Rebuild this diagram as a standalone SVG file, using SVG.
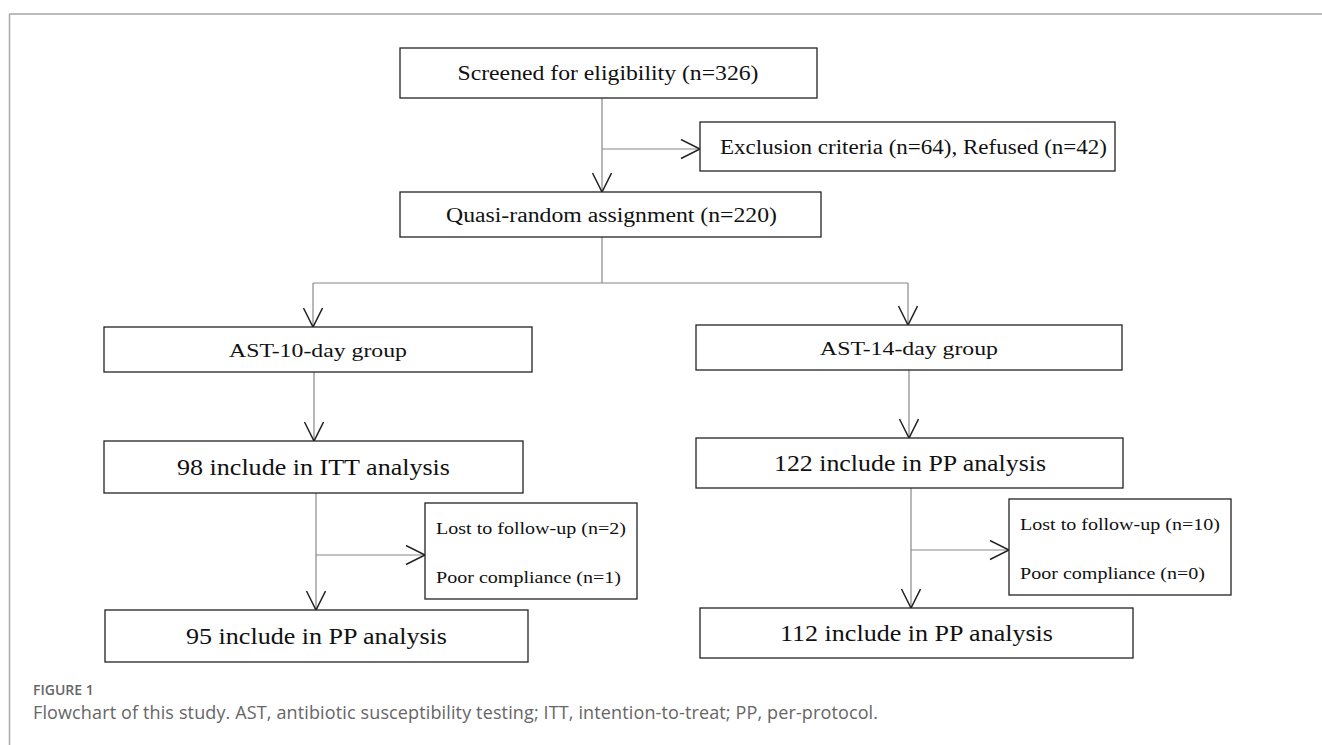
<svg xmlns="http://www.w3.org/2000/svg" width="1322" height="745" viewBox="0 0 1322 745">
<style>
.box{fill:#fff;stroke:#222;stroke-width:1.3}
.t{font-family:"Liberation Serif","Times New Roman",serif;fill:#111}
.c{text-anchor:middle}
.ln{stroke:#888;stroke-width:1.2;fill:none}
.cap{font-family:"Open Sans","Liberation Sans",sans-serif;fill:#666}
</style>
<defs>
<marker id="ah" markerUnits="userSpaceOnUse" markerWidth="22" markerHeight="22" viewBox="0 0 22 22" refX="20" refY="10" orient="auto">
<path d="M1,0.5 L20,10 L1,19.5" fill="none" stroke="#222" stroke-width="1.5"/>
</marker>
</defs>
<rect width="1322" height="745" fill="#fff"/>
<g id="frame">
<line x1="9" y1="14" x2="1322" y2="14" stroke="#bbb" stroke-width="2"/>
<line x1="9.5" y1="14" x2="9.5" y2="745" stroke="#aaa" stroke-width="1.5"/>
</g>
<g id="connectors">
<line class="ln" x1="602" y1="98" x2="602" y2="192" marker-end="url(#ah)"/>
<line class="ln" x1="602" y1="149" x2="700" y2="149" marker-end="url(#ah)"/>
<line class="ln" x1="602" y1="237" x2="602" y2="283"/>
<line class="ln" x1="313" y1="283" x2="908" y2="283"/>
<line class="ln" x1="313" y1="283" x2="313" y2="327" marker-end="url(#ah)"/>
<line class="ln" x1="908" y1="283" x2="908" y2="325" marker-end="url(#ah)"/>
<line class="ln" x1="314" y1="372" x2="314" y2="441" marker-end="url(#ah)"/>
<line class="ln" x1="909" y1="370" x2="909" y2="438" marker-end="url(#ah)"/>
<line class="ln" x1="316" y1="493" x2="316" y2="610" marker-end="url(#ah)"/>
<line class="ln" x1="316" y1="555" x2="425" y2="555" marker-end="url(#ah)"/>
<line class="ln" x1="911" y1="488" x2="911" y2="608" marker-end="url(#ah)"/>
<line class="ln" x1="911" y1="550" x2="1009" y2="550" marker-end="url(#ah)"/>
</g>
<g id="screened">
<rect class="box" x="400" y="48" width="417" height="50"/>
<text class="t c" x="608" y="80" font-size="21" textLength="301" lengthAdjust="spacingAndGlyphs">Screened for eligibility (n=326)</text>
</g>
<g id="exclusion">
<rect class="box" x="700" y="122" width="415" height="49"/>
<text class="t" x="720" y="153.5" font-size="20" textLength="387" lengthAdjust="spacingAndGlyphs">Exclusion criteria (n=64), Refused (n=42)</text>
</g>
<g id="quasi">
<rect class="box" x="400" y="192" width="421" height="45"/>
<text class="t" x="446" y="221.5" font-size="20.5" textLength="331" lengthAdjust="spacingAndGlyphs">Quasi-random assignment (n=220)</text>
</g>
<g id="ast10">
<rect class="box" x="104" y="327" width="428" height="45"/>
<text class="t c" x="318" y="356.5" font-size="19" textLength="178" lengthAdjust="spacingAndGlyphs">AST-10-day group</text>
</g>
<g id="ast14">
<rect class="box" x="696" y="325" width="426" height="45"/>
<text class="t c" x="909" y="354.5" font-size="19" textLength="178" lengthAdjust="spacingAndGlyphs">AST-14-day group</text>
</g>
<g id="itt98">
<rect class="box" x="104" y="441" width="419" height="52"/>
<text class="t c" x="313.5" y="475" font-size="22.5" textLength="273" lengthAdjust="spacingAndGlyphs">98 include in ITT analysis</text>
</g>
<g id="pp122">
<rect class="box" x="696" y="438" width="427" height="50"/>
<text class="t c" x="910" y="471" font-size="22.5" textLength="272" lengthAdjust="spacingAndGlyphs">122 include in PP analysis</text>
</g>
<g id="lost-left">
<rect class="box" x="425" y="503" width="212" height="96"/>
<text class="t" x="436" y="534" font-size="17.5" textLength="190" lengthAdjust="spacingAndGlyphs">Lost to follow-up (n=2)</text>
<text class="t" x="436" y="583" font-size="17.5" textLength="185" lengthAdjust="spacingAndGlyphs">Poor compliance (n=1)</text>
</g>
<g id="lost-right">
<rect class="box" x="1009" y="499" width="222" height="96"/>
<text class="t" x="1020" y="530" font-size="17.5" textLength="200" lengthAdjust="spacingAndGlyphs">Lost to follow-up (n=10)</text>
<text class="t" x="1020" y="579" font-size="17.5" textLength="185" lengthAdjust="spacingAndGlyphs">Poor compliance (n=0)</text>
</g>
<g id="pp95">
<rect class="box" x="105" y="610" width="423" height="52"/>
<text class="t c" x="316.5" y="644" font-size="22.5" textLength="261" lengthAdjust="spacingAndGlyphs">95 include in PP analysis</text>
</g>
<g id="pp112">
<rect class="box" x="700" y="608" width="433" height="50"/>
<text class="t c" x="916.5" y="641" font-size="22.5" textLength="273" lengthAdjust="spacingAndGlyphs">112 include in PP analysis</text>
</g>
<g id="caption">
<text class="cap" x="33" y="695" font-size="14" font-weight="600">FIGURE 1</text>
<text class="cap" x="33" y="719" font-size="18" textLength="845" lengthAdjust="spacing">Flowchart of this study. AST, antibiotic susceptibility testing; ITT, intention-to-treat; PP, per-protocol.</text>
</g>
</svg>
